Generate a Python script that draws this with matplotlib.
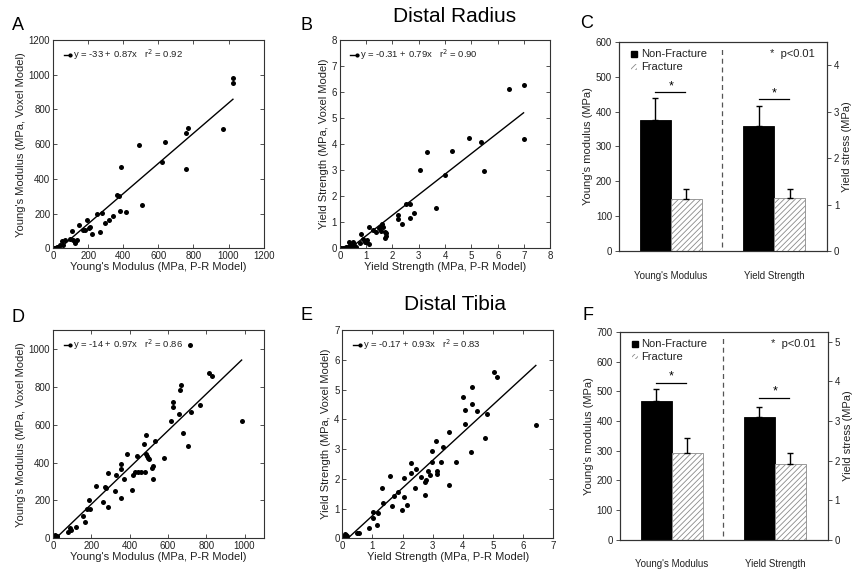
import numpy as np
import matplotlib
matplotlib.use("Agg")
import matplotlib.pyplot as plt

plt.rcParams['font.family'] = ['Liberation Sans', 'DejaVu Sans']
plt.rcParams['hatch.linewidth'] = 0.6

# ---- data ----
# A: distal radius, Young's modulus
ax_x = [1025, 1025, 970, 770, 755, 755, 640, 620, 490, 388, 364, 373, 506, 379, 413,
        278, 253, 341, 318, 297, 270, 192, 150, 211, 202, 183, 173, 221, 110, 97,
        116, 135, 126, 53, 68, 40, 59, 25, 12, 30, 5, 0, 18]
ax_y = [980, 955, 685, 695, 665, 455, 610, 495, 595, 466, 306, 300, 248, 213, 208,
        204, 200, 185, 165, 146, 92, 162, 133, 123, 114, 104, 104, 81, 98, 56,
        50, 50, 31, 42, 46, 17, 17, 8, 3, 5, 2, 0, 0]
fit_a = (-33, 0.87, 0.92)

# B: distal radius, yield strength
bx_x = [6.98, 6.41, 6.98, 5.35, 4.92, 5.49, 4.27, 3.32, 4.01, 3.03, 3.67, 2.51, 2.68,
        2.22, 2.22, 2.37, 2.68, 2.80, 1.09, 1.39, 1.52, 1.55, 1.64, 1.49, 1.70, 1.76,
        1.74, 1.73, 0.81, 0.88, 0.94, 1.03, 1.09, 1.00, 0.34, 0.50, 0.54, 0.37, 0.43,
        0.24, 0.11, 0.05, 0.0, 0.18, 0.30, 0.62, 0.75, 1.60, 1.25]
bx_y = [6.27, 6.11, 4.19, 4.10, 4.23, 2.97, 3.75, 3.71, 2.83, 3.01, 1.54, 1.70, 1.70,
        1.28, 1.11, 0.92, 1.15, 1.34, 0.83, 0.61, 0.81, 0.68, 0.83, 0.77, 0.64, 0.58,
        0.48, 0.41, 0.54, 0.35, 0.25, 0.32, 0.15, 0.23, 0.25, 0.25, 0.13, 0.13, 0.06,
        0.04, 0.0, 0.0, 0.0, 0.0, 0.06, 0.06, 0.19, 0.95, 0.70]
fit_b = (-0.31, 0.79, 0.90)

# D: distal tibia, Young's modulus
dx_x = [715, 813, 830, 670, 664, 629, 629, 768, 720, 657, 616, 985, 679, 706,
        488, 473, 532, 384, 436, 488, 491, 500, 495, 581, 357, 354, 522, 518, 289,
        330, 416, 429, 443, 461, 482, 372, 522, 223, 273, 277, 321, 411, 190, 262,
        357, 286, 175, 193, 157, 166, 122, 86, 80, 95, 9, 18, 0, 0, 4, 21, 0]
dx_y = [1023, 873, 859, 811, 781, 719, 691, 704, 668, 654, 617, 617, 555, 485,
        546, 499, 516, 446, 435, 446, 435, 418, 423, 423, 393, 367, 382, 373, 347,
        335, 335, 352, 352, 352, 352, 312, 312, 278, 273, 264, 250, 256, 203, 194,
        212, 164, 153, 153, 118, 88, 61, 53, 35, 44, 17, 12, 8, 0, 0, 0, 0]
fit_d = (-14, 0.97, 0.86)

# E: distal tibia, yield strength
ex_x = [5.05, 5.15, 4.30, 4.00, 4.30, 4.08, 4.46, 4.82, 4.08, 3.53, 6.43, 4.75, 4.28,
        3.10, 3.33, 2.99, 3.76, 3.29, 2.99, 2.83, 3.13, 3.16, 2.91, 2.77, 2.74, 3.55,
        2.61, 2.46, 2.28, 2.28, 2.06, 2.06, 2.14, 1.97, 2.74, 2.41, 1.59, 1.86, 1.73,
        1.64, 1.31, 1.34, 1.02, 1.01, 1.18, 1.15, 0.87, 0.48, 0.56, 0.08, 0.12, 0.0,
        0.15, 0.04, 0.0]
ex_y = [5.60, 5.41, 5.07, 4.74, 4.50, 4.31, 4.28, 4.18, 3.84, 3.58, 3.81, 3.36, 2.89,
        3.28, 3.08, 2.94, 2.57, 2.57, 2.55, 2.27, 2.27, 2.16, 2.13, 1.96, 1.90, 1.80,
        2.05, 2.33, 2.54, 2.18, 2.03, 1.38, 1.12, 0.95, 1.45, 1.68, 2.10, 1.57, 1.42,
        1.09, 1.68, 1.18, 0.89, 0.67, 0.84, 0.45, 0.36, 0.19, 0.19, 0.14, 0.11, 0.05,
        0.08, 0.03, 0.03]
fit_e = (-0.17, 0.93, 0.83)

# bar panels: [Non-Fracture, Fracture]
groups = ["Young's Modulus", "Yield Strength"]
c_ym = [376, 150]
c_ym_err = [62, 27]
c_ys = [2.69, 1.14]
c_ys_err = [0.43, 0.20]
f_ym = [468, 294]
f_ym_err = [39, 48]
f_ys = [3.11, 1.91]
f_ys_err = [0.25, 0.29]

TXT = '#222222'
EDGE = '#333333'
HATCH = '#8a8a8a'

fig = plt.figure(figsize=(8.56, 5.72), dpi=100)


def scatter_panel(rect, xs, ys, fit, lim, step, xlabel, ylabel):
    ax = fig.add_axes(rect)
    ax.plot(xs, ys, 'o', color='black', ms=3.6, mew=0)
    b0, b1, r2 = fit
    xl = np.array([0, max(xs)])
    ax.plot(xl, b0 + b1 * xl, color='black', lw=1.0)
    ax.set_xlim(0, lim[0])
    ax.set_ylim(0, lim[1])
    ax.set_xticks(np.arange(0, lim[0] + 1e-9, step[0]))
    ax.set_yticks(np.arange(0, lim[1] + 1e-9, step[1]))
    ax.tick_params(direction='in', top=True, right=True, length=3, width=0.6,
                   labelsize=7, colors=EDGE, labelcolor=TXT, pad=2)
    for s in ax.spines.values():
        s.set_linewidth(0.8)
        s.set_color(EDGE)
    ax.set_xlabel(xlabel, fontsize=8, color=TXT, labelpad=1)
    ax.set_ylabel(ylabel, fontsize=8, color=TXT, labelpad=2)
    # legend-like handle
    ax.plot([0.05, 0.087], [0.928, 0.928], transform=ax.transAxes, color='black', lw=1)
    ax.plot([0.082], [0.928], 'o', transform=ax.transAxes, color='black', ms=3, mew=0)
    ax.text(0.097, 0.928, f"y = {b0:g} + {b1:.2f}x   r$^2$ = {r2:.2f}",
            transform=ax.transAxes, fontsize=6.8, va='center', color=TXT)
    return ax


def bar_panel(rect, ym, ym_err, ys, ys_err, ylim_l, ystep_l, ylim_r, ytop_r, sig_ym, sig_ys):
    ax = fig.add_axes(rect)
    ax2 = ax.twinx()
    w = 0.3
    ekw = dict(lw=1, capthick=1)
    ax.bar(0 - w / 2, ym[0], w, color='black', edgecolor='black', lw=0.6,
           yerr=[[0], [ym_err[0]]], capsize=2, error_kw=ekw)
    ax.bar(0 + w / 2, ym[1], w, color='white', edgecolor=HATCH, hatch='//////', lw=0.6,
           yerr=[[0], [ym_err[1]]], capsize=2, error_kw=ekw)
    ax2.bar(1 - w / 2, ys[0], w, color='black', edgecolor='black', lw=0.6,
            yerr=[[0], [ys_err[0]]], capsize=2, error_kw=ekw)
    ax2.bar(1 + w / 2, ys[1], w, color='white', edgecolor=HATCH, hatch='//////', lw=0.6,
            yerr=[[0], [ys_err[1]]], capsize=2, error_kw=ekw)
    ax.set_xlim(-0.501, 1.511)
    ax.set_ylim(0, ylim_l)
    ax.set_yticks(np.arange(0, ylim_l + 1e-9, ystep_l))
    ax2.set_ylim(0, ylim_r)
    ax2.set_yticks(np.arange(0, ytop_r + 1e-9, 1))
    ax.set_xticks([0, 1])
    ax.set_xticklabels(groups)
    ax.tick_params(axis='x', length=0, pad=14, labelsize=7, labelcolor=TXT)
    ax.tick_params(axis='y', direction='out', length=3, width=0.6, labelsize=7,
                   colors=EDGE, labelcolor=TXT, pad=2)
    ax2.tick_params(axis='y', direction='out', length=3, width=0.6, labelsize=7,
                    colors=EDGE, labelcolor=TXT, pad=2)
    for a in (ax, ax2):
        for s in a.spines.values():
            s.set_linewidth(0.8)
            s.set_color(EDGE)
    ax.axvline(0.5, ymin=0.02, ymax=0.98, color='#555555', ls=(0, (4, 3)), lw=0.9)
    ax.set_ylabel("Young's modulus (MPa)", fontsize=8, color=TXT, labelpad=2)
    ax2.set_ylabel("Yield stress (MPa)", fontsize=8, color=TXT, labelpad=2)
    # significance markers
    ax.plot([-0.15, 0.14], [sig_ym, sig_ym], color='black', lw=0.9)
    ax.text(0, sig_ym, '*', ha='center', va='bottom', fontsize=9)
    ax2.plot([0.85, 1.14], [sig_ys, sig_ys], color='black', lw=0.9)
    ax2.text(1, sig_ys, '*', ha='center', va='bottom', fontsize=9)
    # legend
    ax.add_patch(plt.Rectangle((0.058, 0.927), 0.028, 0.028, transform=ax.transAxes,
                               facecolor='black', edgecolor='black'))
    ax.add_patch(plt.Rectangle((0.058, 0.867), 0.028, 0.028, transform=ax.transAxes,
                               facecolor='white', edgecolor=HATCH, hatch='//////', lw=0))
    ax.text(0.105, 0.94, 'Non-Fracture', transform=ax.transAxes, fontsize=8, va='center', color=TXT)
    ax.text(0.105, 0.88, 'Fracture', transform=ax.transAxes, fontsize=8, va='center', color=TXT)
    ax.text(0.725, 0.94, '*  p<0.01', transform=ax.transAxes, fontsize=8, va='center', color=TXT)
    return ax


scatter_panel([0.062, 0.566, 0.246, 0.364], ax_x, ax_y, fit_a, (1200, 1200), (200, 200),
              "Young's Modulus (MPa, P-R Model)", "Young's Modulus (MPa, Voxel Model)")
scatter_panel([0.397, 0.566, 0.246, 0.364], bx_x, bx_y, fit_b, (8, 8), (1, 1),
              "Yield Strength (MPa, P-R Model)", "Yield Strength (MPa, Voxel Model)")
scatter_panel([0.062, 0.059, 0.246, 0.364], dx_x, dx_y, fit_d, (1100, 1100), (200, 200),
              "Young's Modulus (MPa, P-R Model)", "Young's Modulus (MPa, Voxel Model)")
scatter_panel([0.400, 0.059, 0.246, 0.364], ex_x, ex_y, fit_e, (7, 7), (1, 1),
              "Yield Strength (MPa, P-R Model)", "Yield Strength (MPa, Voxel Model)")

bar_panel([0.723, 0.561, 0.243, 0.366], c_ym, c_ym_err, c_ys, c_ys_err,
          600, 100, 4.5, 4, 456, 3.26)
bar_panel([0.724, 0.056, 0.243, 0.364], f_ym, f_ym_err, f_ys, f_ys_err,
          700, 100, 5.25, 5, 528, 3.59)

fig.text(455 / 856, 1 - 17 / 572, 'Distal Radius', fontsize=15, ha='center', va='center')
fig.text(455 / 856, 1 - 305 / 572, 'Distal Tibia', fontsize=15, ha='center', va='center')
for lab, (px, py) in {'A': (18, 25), 'B': (306, 25), 'C': (587, 24),
                      'D': (18, 317), 'E': (307, 315), 'F': (588, 315)}.items():
    fig.text(px / 856, 1 - py / 572, lab, fontsize=13, ha='center', va='center')

fig.savefig('out.png', dpi=100)
